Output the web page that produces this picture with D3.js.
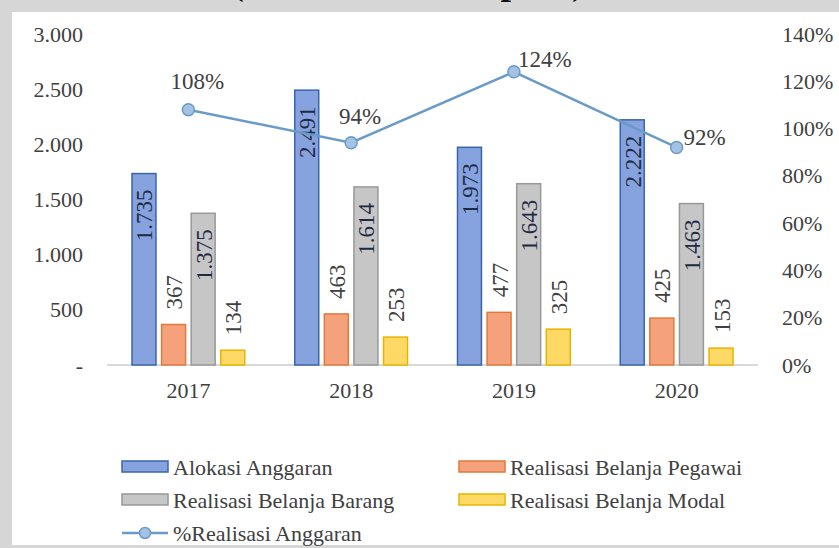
<!DOCTYPE html>
<html lang="id">
<head>
<meta charset="UTF-8">
<title>Alokasi dan Realisasi Anggaran</title>
<script src="https://d3js.org/d3.v7.min.js"></script>
<style>
    body { margin: 0; background: #d6d6d6; }
    svg text { font-family: "Liberation Serif", "Times New Roman", serif; fill: #404040; }
    .tick line, .domain { display: none; }
</style>
</head>
<body>
<svg id="chart" width="839" height="548"></svg>
<script>
// data
const years = ['2017', '2018', '2019', '2020'];
const alokasi = [1735, 2491, 1973, 2222];
const pegawai = [367, 463, 477, 425];
const barang = [1375, 1614, 1643, 1463];
const modal = [134, 253, 325, 153];
const realisasiPct = [108, 94, 124, 92];
const leftTicks = [0, 500, 1000, 1500, 2000, 2500, 3000];
const rightTicks = [0, 20, 40, 60, 80, 100, 120, 140];

const series = [
    { name: 'Alokasi Anggaran', values: alokasi, fill: '#86a3e0', stroke: '#3b64ad', inside: true },
    { name: 'Realisasi Belanja Pegawai', values: pegawai, fill: '#f5a27c', stroke: '#e07a3c', inside: false },
    { name: 'Realisasi Belanja Barang', values: barang, fill: '#c6c6c6', stroke: '#989898', inside: true },
    { name: 'Realisasi Belanja Modal', values: modal, fill: '#ffd966', stroke: '#e8b400', inside: false }
];

const idLocale = d3.formatLocale({ decimal: ',', thousands: '.', grouping: [3], currency: ['', ''] });
const fmt = idLocale.format(',d');

const svg = d3.select('#chart');

// white panel + title that is cut off at the top of the picture
svg.append('rect').attr('x', 12).attr('y', 12).attr('width', 827).attr('height', 533).attr('fill', '#fff');
svg.append('text')
    .attr('x', 408).attr('y', -6)
    .attr('text-anchor', 'middle')
    .style('font-size', '38px').style('font-weight', 'bold').style('fill', '#111')
    .text('(dalam miliar rupiah)');

// scales
const x = d3.scaleBand().domain(years).range([107, 758]).padding(0);
const inner = d3.scaleBand().domain(series.map(s => s.name))
    .range([25, x.bandwidth() - 25]).paddingInner(0.19).paddingOuter(0);
const y = d3.scaleLinear().domain([0, 3000]).range([365, 34]);
const yR = d3.scaleLinear().domain([0, 140]).range([365, 34]);

// baseline
svg.append('line')
    .attr('x1', x.range()[0]).attr('x2', x.range()[1])
    .attr('y1', y(0)).attr('y2', y(0))
    .attr('stroke', '#d9d9d9').attr('stroke-width', 2);

// left axis
svg.append('g')
    .attr('transform', 'translate(83,0)')
    .call(d3.axisLeft(y).tickValues(leftTicks).tickSize(0).tickPadding(0)
        .tickFormat(d => d === 0 ? '-  ' : fmt(d)))
    .call(g => g.selectAll('text').style('font-size', '22px').style('fill', '#404040'));

// right axis
svg.append('g')
    .attr('transform', 'translate(782,0)')
    .call(d3.axisRight(yR).tickValues(rightTicks).tickSize(0).tickPadding(0)
        .tickFormat(d => d + '%'))
    .call(g => g.selectAll('text').style('font-size', '22px').style('fill', '#404040'));

// bottom axis
svg.append('g')
    .attr('transform', `translate(0,${y(0)})`)
    .call(d3.axisBottom(x).tickSize(0).tickPadding(17))
    .call(g => g.selectAll('text').style('font-size', '22px').style('fill', '#404040'));

// bars
series.forEach(s => {
    const g = svg.append('g');
    g.selectAll('rect')
        .data(years)
        .enter().append('rect')
        .attr('x', (d, i) => x(d) + inner(s.name))
        .attr('y', (d, i) => y(s.values[i]))
        .attr('width', inner.bandwidth())
        .attr('height', (d, i) => y(0) - y(s.values[i]))
        .attr('fill', s.fill)
        .attr('stroke', s.stroke)
        .attr('stroke-width', 1.5);

    g.selectAll('text')
        .data(years)
        .enter().append('text')
        .attr('transform', (d, i) => {
            const cx = x(d) + inner(s.name) + inner.bandwidth() / 2 + 1;
            const top = y(s.values[i]);
            const ty = s.inside ? top + 16 : top - 15;
            return `translate(${cx},${ty}) rotate(-90)`;
        })
        .attr('text-anchor', s.inside ? 'end' : 'start')
        .attr('dominant-baseline', 'central')
        .style('font-size', '23px')
        .style('fill', s.inside ? '#1f2a44' : '#404040')
        .text((d, i) => fmt(s.values[i]));
});

// % realisasi line
const pts = years.map((d, i) => [x(d) + x.bandwidth() / 2, yR(realisasiPct[i])]);
svg.append('path')
    .attr('d', d3.line()(pts))
    .attr('fill', 'none')
    .attr('stroke', '#6a9bc6')
    .attr('stroke-width', 2.5);
svg.selectAll('.marker')
    .data(pts)
    .enter().append('circle')
    .attr('class', 'marker')
    .attr('cx', d => d[0]).attr('cy', d => d[1])
    .attr('r', 6)
    .attr('fill', '#a4c2e4')
    .attr('stroke', '#6a9bc6')
    .attr('stroke-width', 1.5);

// label offsets relative to the points
const labelOffsets = [[9, -28], [9, -26], [31, -12], [28, -10]];
svg.selectAll('.pct-label')
    .data(pts)
    .enter().append('text')
    .attr('class', 'pct-label')
    .attr('x', (d, i) => d[0] + labelOffsets[i][0])
    .attr('y', (d, i) => d[1] + labelOffsets[i][1])
    .attr('text-anchor', 'middle')
    .attr('dominant-baseline', 'central')
    .style('font-size', '23px')
    .text((d, i) => realisasiPct[i] + '%');

// legend
const legendItems = [
    { s: series[0], lx: 122, ly: 467 },
    { s: series[1], lx: 459, ly: 467 },
    { s: series[2], lx: 122, ly: 500 },
    { s: series[3], lx: 459, ly: 500 }
];
legendItems.forEach(it => {
    svg.append('rect')
        .attr('x', it.lx).attr('y', it.ly - 6)
        .attr('width', 46).attr('height', 11)
        .attr('fill', it.s.fill)
        .attr('stroke', it.s.stroke)
        .attr('stroke-width', 1.5);
    svg.append('text')
        .attr('x', it.lx + 51).attr('y', it.ly)
        .attr('dominant-baseline', 'central')
        .style('font-size', '22px')
        .text(it.s.name);
});
svg.append('line')
    .attr('x1', 122).attr('x2', 168).attr('y1', 533).attr('y2', 533)
    .attr('stroke', '#6a9bc6').attr('stroke-width', 2.5);
svg.append('circle')
    .attr('cx', 145).attr('cy', 533).attr('r', 5.5)
    .attr('fill', '#a4c2e4').attr('stroke', '#6a9bc6').attr('stroke-width', 1.5);
svg.append('text')
    .attr('x', 173).attr('y', 533)
    .attr('dominant-baseline', 'central')
    .style('font-size', '22px')
    .text('%Realisasi Anggaran');
</script>
</body>
</html>
